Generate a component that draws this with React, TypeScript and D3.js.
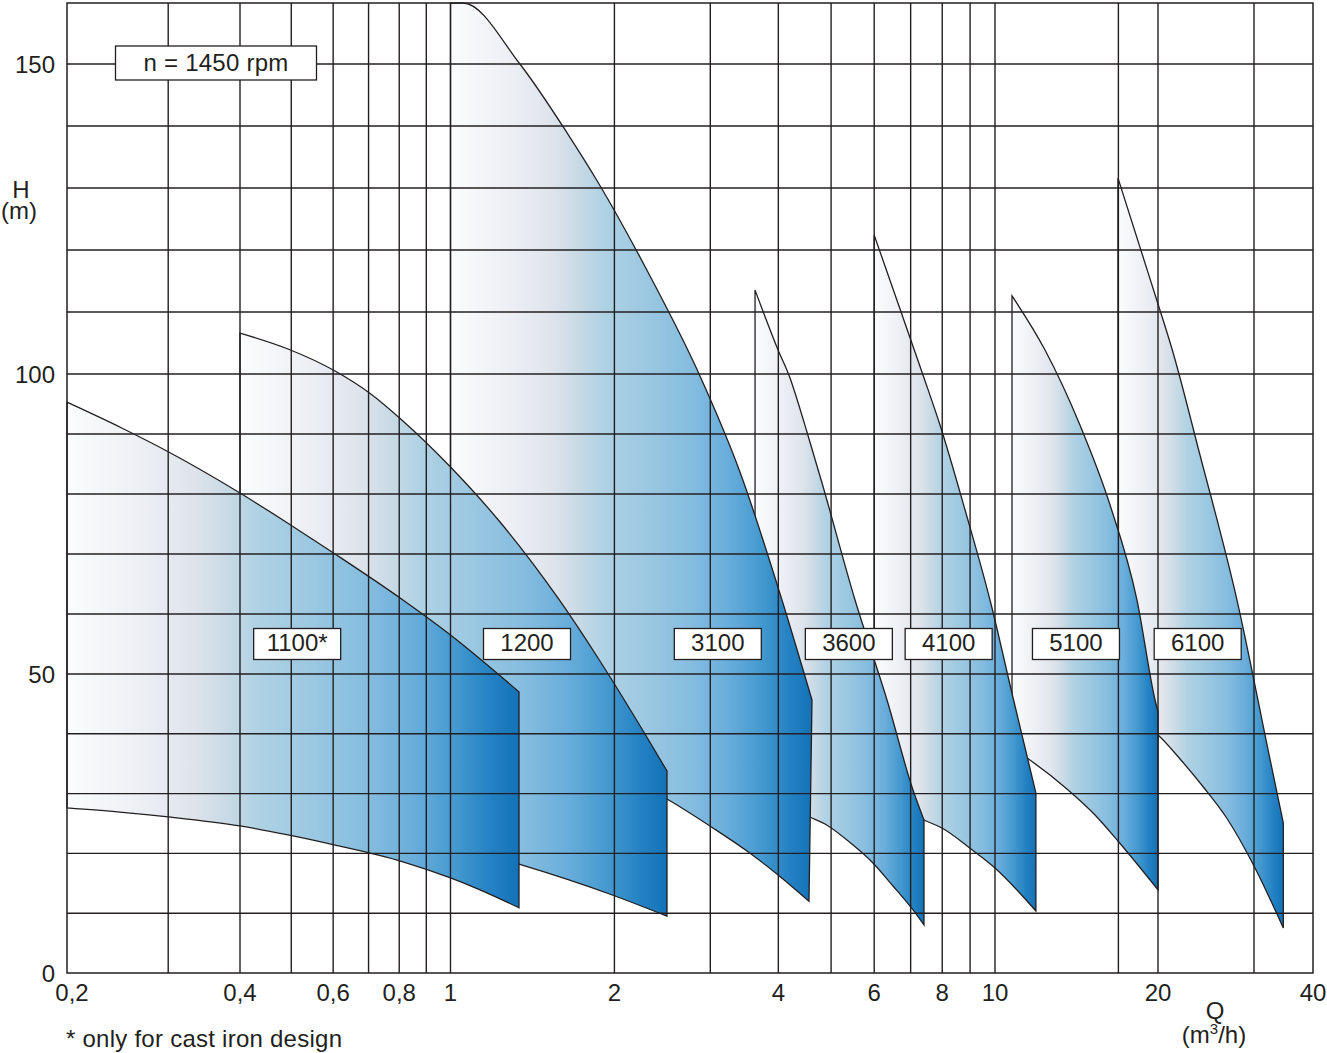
import React from "react";
import * as d3 from "d3";

type Pt = [number, number];

// ---- axis data ----
const xTickValues = [0.2, 0.4, 0.6, 0.8, 1, 2, 4, 6, 8, 10, 20, 40];
const xTickLabels = ["0,2", "0,4", "0,6", "0,8", "1", "2", "4", "6", "8", "10", "20", "40"];
const xGridValues = [0.3, 0.4, 0.5, 0.6, 0.7, 0.8, 0.9, 1, 2, 3, 4, 5, 6, 7, 8, 9, 10, 16.9, 20, 30];
const yTickValues = [0, 50, 100, 150];
const yGridValues = [10, 20, 30, 40, 50, 60, 70, 80, 90, 100, 110, 120, 130, 140, 150];

// ---- pump ranges (Q m3/h, H m) ----
const p1100Top: Pt[] = [[0.2, 95.3], [0.249, 91.0], [0.3, 87.05], [0.4, 80.17], [0.492, 75.17], [0.605, 70.0], [0.813, 62.33], [1.0, 56.5], [1.336, 47.0]];
const p1100Bottom: Pt[] = [[0.2, 27.6], [0.247, 26.9], [0.3, 26.1], [0.4, 24.6], [0.493, 23.1], [0.605, 21.4], [0.813, 18.6], [1.0, 15.9], [1.133, 13.9], [1.336, 10.9]];
const p1200Top: Pt[] = [[0.4, 106.6], [0.493, 104.03], [0.605, 100.48], [0.707, 96.67], [0.813, 92.17], [1.0, 84.5], [1.233, 75.33], [1.575, 62.67], [1.866, 52.67], [2.276, 39.97], [2.498, 33.78]];
const p1200Bottom: Pt[] = [[0.4, 29.8], [0.605, 26.4], [1.0, 21.4], [1.336, 18.2], [1.988, 13.0], [2.498, 9.5]];
const p3100Top: Pt[] = [[1.0, 160], [1.054, 160], [1.341, 150], [1.637, 138.9], [1.874, 130.65], [2.325, 115.8], [2.872, 99.67], [3.401, 83.67], [4.062, 62.33], [4.612, 45.65]];
const p3100Bottom: Pt[] = [[1.0, 45.65], [1.341, 40.6], [1.882, 34.8], [2.498, 29.1], [3.034, 24.25], [3.503, 20.4], [3.996, 16.4], [4.554, 12.0]];
const p3600Top: Pt[] = [[3.625, 113.55], [3.996, 103.87], [4.203, 99.33], [4.293, 96.83], [4.515, 90.33], [4.812, 81.83], [5.533, 62.33], [6.334, 45.65], [7.07, 30.6], [7.406, 25.59]];
const p3600Bottom: Pt[] = [[3.625, 30.6], [4.029, 28.9], [4.574, 26.09], [4.873, 24.92], [5.486, 21.4], [5.944, 18.56], [6.496, 14.55], [7.07, 10.54], [7.406, 8.03]];
const p4100Top: Pt[] = [[6.0, 122.4], [6.692, 110.48], [7.375, 99.83], [7.925, 91.5], [8.811, 77.33], [9.791, 62.33], [10.8, 45.99], [11.9, 30.1]];
const p4100Bottom: Pt[] = [[6.0, 29.8], [6.692, 27.9], [7.406, 25.59], [7.992, 24.25], [9.034, 20.74], [10.0, 17.56], [10.98, 13.88], [11.9, 10.37]];
const p5100Top: Pt[] = [[10.75, 112.6], [12.37, 103.87], [14.35, 91.5], [16.31, 78.17], [18.29, 62.33], [19.75, 45.65], [20, 43.65]];
const p5100Bottom: Pt[] = [[10.75, 37.6], [11.6, 35.62], [13.58, 30.77], [15.3, 26.42], [16.87, 22.07], [20, 13.9]];
const p6100Top: Pt[] = [[16.87, 131.6], [18.77, 118.87], [20, 111.29], [21.22, 104.03], [23.88, 86.5], [27.92, 62.33], [32.43, 35.79], [34.61, 25.08]];
const p6100Bottom: Pt[] = [[16.87, 43.1], [20, 39.8], [21.95, 35.79], [24.22, 31.1], [26.73, 25.92], [30.0, 17.89], [34.61, 7.53]];

const pumpNames = ["1100*", "1200", "3100", "3600", "4100", "5100", "6100"];
const pumpLabelQ = [0.513, 1.382, 3.097, 5.39, 8.22, 14.11, 23.65];
const labelH = 55;
const pumpTops = [p1100Top, p1200Top, p3100Top, p3600Top, p4100Top, p5100Top, p6100Top];
const pumpBottoms = [p1100Bottom, p1200Bottom, p3100Bottom, p3600Bottom, p4100Bottom, p5100Bottom, p6100Bottom];

const speedLabel = "n = 1450 rpm";
const footnote = "* only for cast iron design";

const INK = "#231f20";
const FONT = "'Liberation Sans', Arial, Helvetica, sans-serif";

export default function App() {
  const x = d3.scaleLog().domain([0.2, 0.4, 1, 10, 20, 30, 40]).range([67, 240, 450.5, 995, 1158, 1254, 1313]);
  const y = d3.scaleLinear().domain([0, 50, 100, 150, 160]).range([973, 674, 374, 64, 3]);
  const left = x(0.2), right = x(40), top = y(160), bottom = y(0);

  const line = d3.line<Pt>().x((d) => x(d[0])).y((d) => y(d[1])).curve(d3.curveMonotoneX);

  const shapes = pumpNames.map((name, i) => {
    const t = line(pumpTops[i]) as string;
    const b = line([...pumpBottoms[i]].reverse()) as string;
    return { name, d: t + "L" + b.slice(1) + "Z" };
  });

  const gradStops: [number, string][] = [
    [0, "#fbfcfd"], [0.15, "#eef0f5"], [0.28, "#dfe4ec"], [0.36, "#c6d9e5"], [0.42, "#b0d2e4"],
    [0.55, "#9ac7e1"], [0.67, "#84bcdf"], [0.77, "#68addb"], [0.86, "#4499cf"], [0.94, "#2381c3"], [1, "#1371b7"],
  ];

  return (
    <svg width={1327} height={1053} style={{ position: "absolute", left: 0, top: 0, background: "#fff" }} fontFamily={FONT}>
      <defs>
        <linearGradient id="pumpGrad" x1="0" x2="1" y1="0" y2="0">
          {gradStops.map(([o, c], i) => (
            <stop key={i} offset={o} stopColor={c} />
          ))}
        </linearGradient>
      </defs>

      {/* pump ranges, rightmost at the back */}
      {[...shapes].reverse().map((s) => (
        <path key={s.name} d={s.d} fill="url(#pumpGrad)" stroke={INK} strokeWidth={1.3} strokeLinejoin="miter" />
      ))}

      {/* grid */}
      {yGridValues.map((v) => (
        <line key={"h" + v} x1={left} x2={right} y1={y(v)} y2={y(v)} stroke={INK} strokeWidth={1.4} />
      ))}
      {xGridValues.map((v) => (
        <line key={"v" + v} x1={x(v)} x2={x(v)} y1={top} y2={bottom} stroke={INK} strokeWidth={1.4} />
      ))}
      <rect x={left} y={top} width={right - left} height={bottom - top} fill="none" stroke={INK} strokeWidth={1.5} />

      {/* axis tick labels */}
      {yTickValues.map((v) => (
        <text key={"yt" + v} x={55} y={y(v) + 8.5} textAnchor="end" fontSize={24} fill={INK}>
          {v}
        </text>
      ))}
      {xTickValues.map((v, i) => (
        <text key={"xt" + v} x={x(v) + (i === 0 ? 5 : 0)} y={1001} textAnchor="middle" fontSize={24} fill={INK}>
          {xTickLabels[i]}
        </text>
      ))}

      {/* axis titles */}
      <text textAnchor="middle" fontSize={24} fill={INK}>
        <tspan x={21} y={198}>H</tspan>
        <tspan x={19} y={219}>(m)</tspan>
      </text>
      <text textAnchor="middle" fontSize={24} fill={INK}>
        <tspan x={1215} y={1019}>Q</tspan>
        <tspan x={1214} y={1043}>(m<tspan fontSize={15} dy={-9}>3</tspan><tspan dy={9}>/h)</tspan></tspan>
      </text>

      {/* speed box */}
      <rect x={115.5} y={46} width={201} height={34} fill="#fff" stroke={INK} strokeWidth={1.3} />
      <text x={216} y={71} textAnchor="middle" fontSize={24} letterSpacing={0.25} fill={INK}>{speedLabel}</text>

      {/* pump labels */}
      {pumpNames.map((name, i) => {
        const cx = x(pumpLabelQ[i]);
        const cy = y(labelH);
        return (
          <g key={"lab" + name}>
            <rect x={cx - 43.5} y={cy - 15.5} width={87} height={31} fill="#fff" stroke={INK} strokeWidth={1.3} />
            <text x={cx} y={cy + 6.5} textAnchor="middle" fontSize={24} fill={INK}>{name}</text>
          </g>
        );
      })}

      <text x={66} y={1047} fontSize={24} letterSpacing={0.25} fill={INK}>{footnote}</text>
    </svg>
  );
}
